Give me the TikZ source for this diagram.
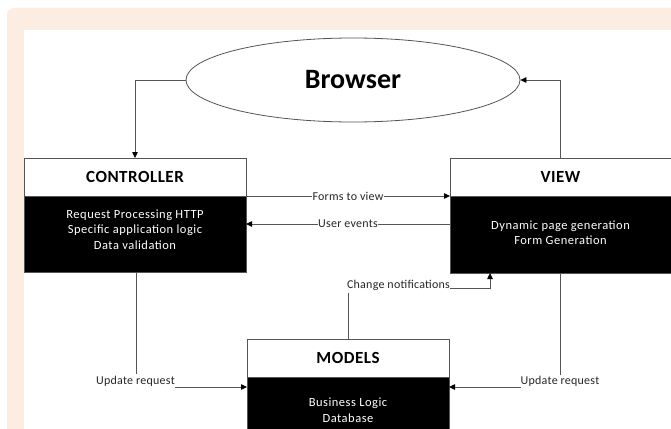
\documentclass[tikz,border=0pt]{standalone}
\usepackage{fontspec}
\setmainfont{Carlito}
\usetikzlibrary{shapes.geometric,arrows.meta}
\definecolor{peach}{RGB}{252,237,226}
\definecolor{lncol}{RGB}{85,85,85}
\tikzset{
  hdr/.style={draw=lncol, fill=white, line width=0.9pt, anchor=north west, outer sep=0pt, inner sep=0pt, font=\fontsize{17}{20}\selectfont\bfseries\addfontfeatures{LetterSpace=3}},
  bodybox/.style={draw=lncol, fill=black, line width=0.9pt, anchor=north west, outer sep=0pt, inner sep=0pt},
  bodytxt/.style={text=white, align=center, font=\fontsize{12.5}{15.5}\selectfont\addfontfeatures{LetterSpace=4}},
  lbl/.style={fill=white, inner sep=0.5pt, text=black!85, font=\fontsize{12}{13}\selectfont\addfontfeatures{LetterSpace=2}},
  conn/.style={draw=lncol, line width=0.8pt},
  arr/.style={conn, -{Triangle[length=6pt,width=5.5pt,color=black]}},
}
\begin{document}
\begin{tikzpicture}[x=1pt,y=-1pt]
\useasboundingbox (0,0) rectangle (671,428);
\clip (0,0) rectangle (671,428);
\fill[white] (0,0) rectangle (671,428);
\fill[peach, rounded corners=7pt] (7,8) rectangle (690,450);
\fill[white] (24,30) rectangle (690,450);

% Browser
\node[ellipse, draw=lncol, line width=0.8pt, fill=white, minimum width=334pt, minimum height=84pt, inner sep=0pt, font=\fontsize{28}{32}\selectfont\bfseries] (br) at (353,80) {Browser};

% Controller
\node[hdr, minimum width=222pt, minimum height=38pt] (ctrlh) at (24,158) {CONTROLLER};
\node[bodybox, minimum width=222pt, minimum height=76pt] (ctrlb) at (24,196) {};
\node[bodytxt] (ctrlt) at (135,229.5) {Request Processing HTTP\\Specific application logic\\Data validation};

% View
\node[hdr, minimum width=221pt, minimum height=38pt] (viewh) at (450,158) {VIEW};
\node[bodybox, minimum width=221pt, minimum height=77pt] (viewb) at (450,196) {};
\node[bodytxt] (viewt) at (560.5,232.5) {Dynamic page generation\\Form Generation};

% Models
\node[hdr, minimum width=202pt, minimum height=38pt] (modh) at (247,339) {MODELS};
\node[bodybox, minimum width=202pt, minimum height=70pt] (modb) at (247,377) {};
\node[bodytxt] (modt) at (348,410) {Business Logic\\Database};

% Browser connectors
\draw[arr] (br.west) -| (ctrlh.north);
\draw[arr] (viewh.north) |- (br.east);

% Controller <-> View
\draw[arr] (ctrlb.north east) -- node[lbl] (fv) {Forms to view} (viewb.north west);
\draw[arr] (viewb.west |- 0,224) -- node[lbl] (ue) {User events} (ctrlb.east |- 0,224);

% Change notifications
\node[lbl, inner sep=0pt] (cn) at (398.5,285) {Change notifications};
\draw[conn] (modh.north) -- (modh.north |- 0,293);
\draw[arr] (cn.east |- 0,288) -| (490,273);

% Update requests
\node[lbl, inner sep=0pt] (ul) at (135.5,381) {Update request};
\draw[conn] (ctrlb.south -| 136,0) -- (136,374);
\draw[arr] (ul.east |- 0,387) -- (modb.west |- 0,387);

\node[lbl, inner sep=0pt] (ur) at (560,381) {Update request};
\draw[conn] (viewb.south -| 560,0) -- (560,375);
\draw[arr] (ur.west |- 0,387) -- (modb.east |- 0,387);
\end{tikzpicture}
\end{document}
